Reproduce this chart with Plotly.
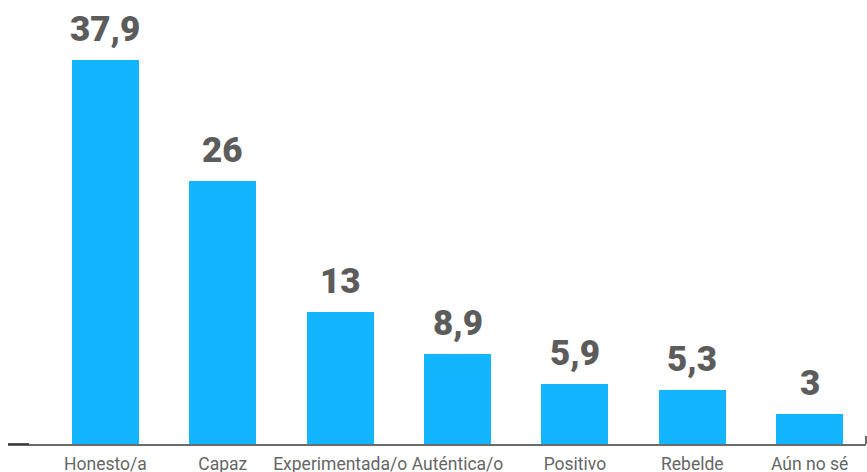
import plotly.graph_objects as go

categories = ["Honesto/a", "Capaz", "Experimentada/o", "Auténtica/o", "Positivo", "Rebelde", "Aún no sé"]
values = [37.9, 26, 13, 8.9, 5.9, 5.3, 3]
labels = ["37,9", "26", "13", "8,9", "5,9", "5,3", "3"]

fig = go.Figure()
fig.add_trace(go.Bar(
    x=categories, y=values, marker=dict(color="#13B5FF", line=dict(width=0)),
    width=0.571, hoverinfo="skip",
))
for c, v, t in zip(categories, values, labels):
    fig.add_annotation(x=c, y=v, text=t, showarrow=False, yanchor="bottom", yshift=8,
                       font=dict(family="Roboto", size=35, color="#5c5c5c", weight=900))

fig.add_shape(type="line", xref="paper", yref="paper", x0=0, x1=0.0245, y0=0, y1=0,
              line=dict(color="#222222", width=1.5))
fig.add_shape(type="line", xref="paper", yref="paper", x0=1, x1=1, y0=0, y1=0.02,
              line=dict(color="#6b6b6b", width=2))

fig.update_layout(
    width=867, height=472,
    margin=dict(l=8, r=1, t=39, b=28),
    paper_bgcolor="white", plot_bgcolor="white",
    showlegend=False, bargap=0,
    xaxis=dict(type="category", range=[-0.83, 6.48], showline=True, linecolor="#6b6b6b",
               linewidth=2, ticks="", showgrid=False, automargin=False, tickangle=0,
               ticklabelstandoff=3,
               tickfont=dict(family="Roboto", size=17.5, color="#666666")),
    yaxis=dict(range=[0, 40], visible=False, showgrid=False, automargin=False),
)
fig.write_html("out.html")
